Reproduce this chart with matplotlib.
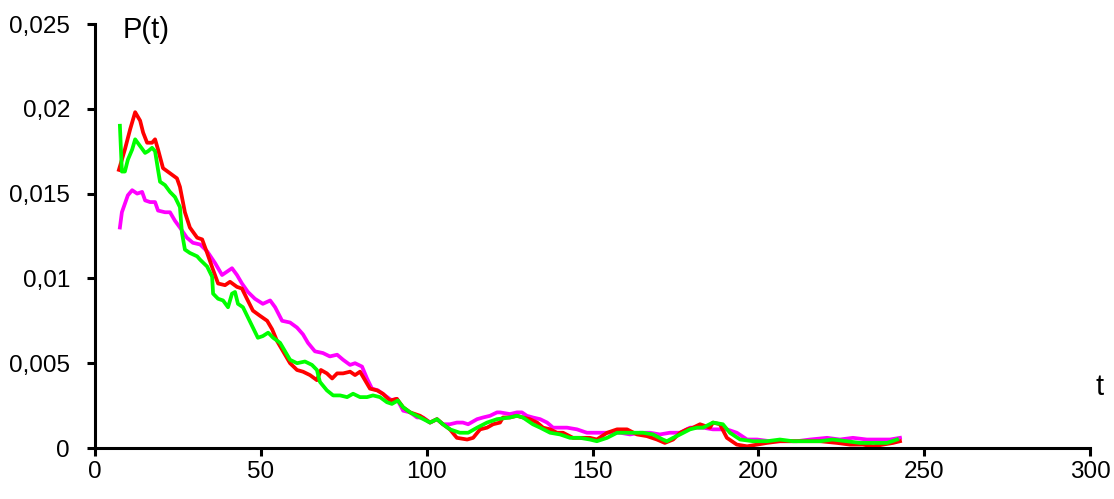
import matplotlib
matplotlib.use('Agg')
import matplotlib.pyplot as plt

# --- data ---
red_t = [7.2, 9.0, 10.6, 12.1, 13.6, 14.5, 15.7, 17.2, 18.1, 19.0, 20.5, 22.6, 24.7, 25.6, 27.1,
         28.6, 30.8, 32.3, 33.8, 35.6, 37.1, 39.2, 40.7, 42.8, 44.3, 45.8, 47.6, 49.7, 51.9, 53.4,
         54.9, 55.8, 58.8, 60.9, 62.7, 64.8, 66.9, 68.1, 69.9, 71.5, 73.0, 74.8, 76.9, 78.4, 79.9,
         81.4, 82.9, 85.0, 86.8, 88.9, 91.0, 92.9, 95.0, 98.0, 101.0, 103.1, 104.9, 107.0, 109.1,
         112.2, 114.0, 116.1, 118.2, 120.0, 122.1, 123.0, 125.1, 127.2, 129.0, 131.1, 133.3, 135.1,
         137.2, 139.3, 141.1, 144.1, 146.2, 149.2, 151.3, 154.4, 157.4, 160.4, 163.4, 166.4, 169.4,
         171.8, 174.3, 176.4, 178.5, 180.3, 182.4, 185.4, 186.3, 188.4, 190.5, 193.5, 196.6, 199.6,
         202.6, 206.5, 210.4, 214.7, 218.6, 223.7, 227.6, 231.5, 234.6, 237.6, 240.6, 242.7]
red_p = [0.0164, 0.0176, 0.0188, 0.0198, 0.0193, 0.0186, 0.0180, 0.0180, 0.0182, 0.0176, 0.0165,
         0.0162, 0.0159, 0.0154, 0.0139, 0.0130, 0.0124, 0.0123, 0.0115, 0.0105, 0.0097, 0.0096,
         0.0098, 0.0095, 0.0094, 0.0088, 0.0081, 0.0078, 0.0075, 0.0070, 0.0063, 0.0060, 0.0050,
         0.0046, 0.0045, 0.0043, 0.0040, 0.0046, 0.0044, 0.0041, 0.0044, 0.0044, 0.0045, 0.0043,
         0.0045, 0.0040, 0.0035, 0.0034, 0.0032, 0.0028, 0.0029, 0.0024, 0.0021, 0.0019, 0.0015,
         0.0017, 0.0014, 0.0011, 0.0006, 0.0005, 0.0006, 0.0011, 0.0012, 0.0014, 0.0015, 0.0018,
         0.0018, 0.0019, 0.0018, 0.0017, 0.0015, 0.0012, 0.0011, 0.0009, 0.0009, 0.0006, 0.0006,
         0.0006, 0.0005, 0.0009, 0.0011, 0.0011, 0.0008, 0.0007, 0.0005, 0.0003, 0.0005, 0.0009,
         0.0011, 0.0012, 0.0014, 0.0012, 0.0015, 0.0014, 0.0006, 0.0002, 0.0001, 0.0002, 0.0003,
         0.0004, 0.0004, 0.0004, 0.0004, 0.0003, 0.0002, 0.0002, 0.0001, 0.0002, 0.0003, 0.0004]

green_t = [7.5, 8.1, 9.0, 9.9, 11.2, 12.1, 13.6, 15.1, 16.0, 17.2, 18.1, 19.0, 19.6, 21.1, 22.6,
           24.1, 25.6, 26.2, 27.1, 28.6, 30.8, 31.7, 33.8, 35.3, 35.6, 37.1, 38.6, 40.1, 41.3, 42.2,
           43.1, 44.6, 46.1, 47.6, 49.1, 50.6, 52.2, 53.7, 55.8, 58.8, 60.9, 63.3, 65.4, 66.9, 67.8,
           69.9, 71.8, 73.9, 76.0, 77.8, 79.9, 82.0, 83.8, 85.9, 88.0, 89.5, 91.3, 92.9, 95.0, 98.0,
           101.0, 103.1, 104.9, 107.0, 110.0, 112.5, 115.2, 118.2, 121.2, 125.1, 127.2, 129.0, 132.0,
           134.2, 137.2, 140.2, 143.2, 146.2, 149.2, 151.3, 154.4, 157.4, 160.4, 163.4, 165.2, 168.2,
           171.2, 172.4, 174.3, 176.4, 179.4, 181.5, 183.3, 186.3, 189.3, 191.4, 194.5, 198.4, 202.6,
           206.5, 210.4, 214.7, 218.6, 222.3, 226.7, 230.6, 234.6, 238.8, 241.8]
green_p = [0.0190, 0.0163, 0.0163, 0.0170, 0.0176, 0.0182, 0.0178, 0.0174, 0.0175, 0.0177, 0.0175,
           0.0164, 0.0157, 0.0155, 0.0151, 0.0148, 0.0142, 0.0127, 0.0117, 0.0115, 0.0113, 0.0111,
           0.0107, 0.0101, 0.0091, 0.0088, 0.0087, 0.0083, 0.0091, 0.0092, 0.0085, 0.0083, 0.0077,
           0.0071, 0.0065, 0.0066, 0.0068, 0.0065, 0.0062, 0.0052, 0.0050, 0.0051, 0.0049, 0.0046,
           0.0039, 0.0034, 0.0031, 0.0031, 0.0030, 0.0032, 0.0030, 0.0030, 0.0031, 0.0030, 0.0027,
           0.0026, 0.0028, 0.0024, 0.0021, 0.0018, 0.0015, 0.0017, 0.0014, 0.0011, 0.0009, 0.0009,
           0.0012, 0.0015, 0.0017, 0.0018, 0.0019, 0.0018, 0.0014, 0.0012, 0.0009, 0.0008, 0.0006,
           0.0006, 0.0005, 0.0004, 0.0006, 0.0009, 0.0009, 0.0009, 0.0009, 0.0008, 0.0005, 0.0004,
           0.0006, 0.0008, 0.0011, 0.0012, 0.0012, 0.0015, 0.0014, 0.0009, 0.0005, 0.0004, 0.0004,
           0.0005, 0.0004, 0.0004, 0.0004, 0.0005, 0.0004, 0.0003, 0.0003, 0.0003, 0.0005]

magenta_t = [7.5, 8.1, 9.0, 9.9, 11.2, 12.7, 14.2, 15.1, 16.6, 18.1, 19.0, 21.1, 22.6, 24.1, 25.6,
             27.7, 29.5, 31.7, 33.8, 36.2, 38.3, 39.8, 41.3, 42.8, 44.3, 46.1, 48.2, 50.6, 52.8,
             54.3, 56.4, 58.8, 60.9, 62.7, 64.2, 66.3, 68.7, 70.8, 73.0, 74.8, 76.9, 78.4, 80.5,
             82.0, 83.5, 85.3, 87.4, 89.5, 91.0, 92.9, 95.0, 97.1, 98.9, 101.0, 103.1, 104.9, 107.0,
             109.1, 110.9, 112.5, 115.2, 117.0, 119.1, 121.2, 122.1, 125.1, 127.2, 128.7, 130.2,
             132.0, 134.2, 136.3, 138.1, 140.2, 142.3, 145.3, 148.3, 151.3, 155.3, 158.3, 161.3,
             164.3, 167.3, 170.3, 173.3, 176.4, 179.4, 183.3, 186.3, 190.5, 193.5, 196.6, 199.6,
             203.5, 207.4, 211.6, 215.6, 220.7, 224.6, 228.5, 232.7, 236.7, 239.7, 242.7]
magenta_p = [0.0130, 0.0139, 0.0144, 0.0149, 0.0152, 0.0150, 0.0151, 0.0146, 0.0145, 0.0145,
             0.0140, 0.0139, 0.0139, 0.0134, 0.0130, 0.0124, 0.0121, 0.0120, 0.0116, 0.0109,
             0.0102, 0.0104, 0.0106, 0.0102, 0.0097, 0.0092, 0.0088, 0.0085, 0.0087, 0.0083,
             0.0075, 0.0074, 0.0071, 0.0067, 0.0062, 0.0057, 0.0056, 0.0054, 0.0055, 0.0052,
             0.0049, 0.0050, 0.0048, 0.0041, 0.0035, 0.0034, 0.0031, 0.0028, 0.0029, 0.0022,
             0.0021, 0.0018, 0.0018, 0.0015, 0.0017, 0.0014, 0.0014, 0.0015, 0.0015, 0.0014,
             0.0017, 0.0018, 0.0019, 0.0021, 0.0021, 0.0020, 0.0021, 0.0021, 0.0019, 0.0018,
             0.0017, 0.0015, 0.0012, 0.0012, 0.0012, 0.0011, 0.0009, 0.0009, 0.0009, 0.0009,
             0.0008, 0.0009, 0.0009, 0.0008, 0.0009, 0.0009, 0.0012, 0.0012, 0.0011, 0.0011,
             0.0009, 0.0005, 0.0005, 0.0004, 0.0004, 0.0004, 0.0005, 0.0006, 0.0005, 0.0006,
             0.0005, 0.0005, 0.0005, 0.0006]

x_ticks = [0, 50, 100, 150, 200, 250, 300]
y_ticks = [0, 0.005, 0.01, 0.015, 0.02, 0.025]
y_tick_labels = ['0', '0,005', '0,01', '0,015', '0,02', '0,025']

plt.rcParams['font.family'] = ['Liberation Sans', 'DejaVu Sans']

fig = plt.figure(figsize=(11.14, 4.99), dpi=100)
ax = fig.add_axes([0.0853, 0.1022, 0.8932, 0.8497])

ax.plot(magenta_t, magenta_p, color='#ff00ff', lw=2.7)
ax.plot(red_t, red_p, color='#ff0000', lw=2.7)
ax.plot(green_t, green_p, color='#00ff00', lw=2.7)

ax.set_xlim(0, 300)
ax.set_ylim(0, 0.025)
ax.set_xticks(x_ticks)
ax.set_xticklabels([str(v) for v in x_ticks])
ax.set_yticks(y_ticks)
ax.set_yticklabels(y_tick_labels)

for side in ['top', 'right']:
    ax.spines[side].set_visible(False)
for side in ['left', 'bottom']:
    ax.spines[side].set_linewidth(2.2)
ax.tick_params(axis='both', direction='out', length=6, width=2.2, labelsize=17.5)
ax.tick_params(axis='x', pad=3)
ax.tick_params(axis='y', pad=12)

fig.text(0.110, 0.94, 'P(t)', fontsize=21, ha='left', va='center')
fig.text(0.987, 0.224, 't', fontsize=21, ha='center', va='center')

fig.savefig('out.png', dpi=100)
